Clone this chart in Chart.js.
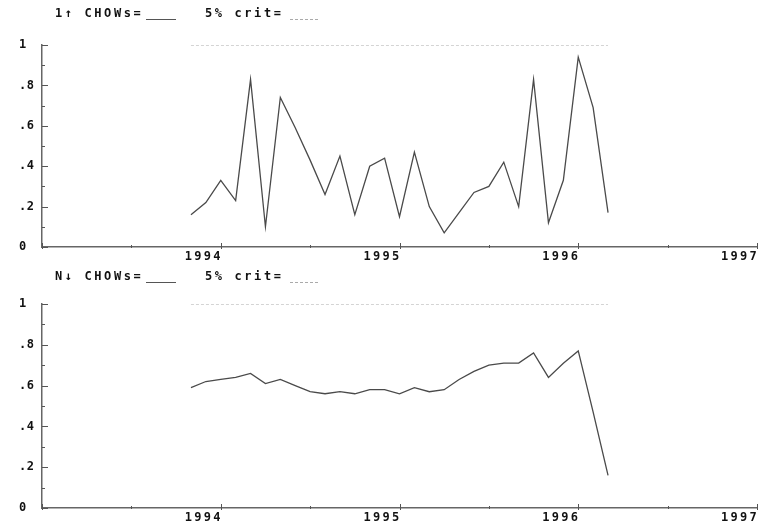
<!DOCTYPE html>
<html><head><meta charset="utf-8">
<script src="https://cdn.jsdelivr.net/npm/chart.js@4"></script>
<style>
body{margin:0;background:#fff;width:759px;height:526px;overflow:hidden;position:relative}
#c1{position:absolute;left:0;top:0}
#c2{position:absolute;left:0;top:262px}
</style></head>
<body>
<canvas id="c1" width="759" height="262"></canvas>
<canvas id="c2" width="759" height="264"></canvas>
<script>
// ---- data ----
const months = ["1993-11","1993-12","1994-01","1994-02","1994-03","1994-04","1994-05","1994-06","1994-07","1994-08","1994-09","1994-10","1994-11","1994-12","1995-01","1995-02","1995-03","1995-04","1995-05","1995-06","1995-07","1995-08","1995-09","1995-10","1995-11","1995-12","1996-01","1996-02","1996-03"];
const oneStepChow = [0.16,0.22,0.33,0.23,0.83,0.10,0.74,0.59,0.43,0.26,0.45,0.16,0.40,0.44,0.15,0.47,0.20,0.07,0.17,0.27,0.30,0.42,0.20,0.83,0.12,0.33,0.94,0.69,0.17];
const nDownChow   = [0.59,0.62,0.63,0.64,0.66,0.61,0.63,0.60,0.57,0.56,0.57,0.56,0.58,0.58,0.56,0.59,0.57,0.58,0.63,0.67,0.70,0.71,0.71,0.76,0.64,0.71,0.77,0.47,0.16];
const crit5pct    = [1,1,1,1,1,1,1,1,1,1,1,1,1,1,1,1,1,1,1,1,1,1,1,1,1,1,1,1,1];
const xTickLabels = ["1994","1995","1996","1997"];
const yTickLabels = ["0",".2",".4",".6",".8","1"];
const titles = [["1\u2191 CHOWs=","5% crit="],["N\u2193 CHOWs=","5% crit="]];

function toYear(m){ const p=m.split("-"); return +p[0] + (+p[1]-1)/12; }
function pts(vals){ return months.map((m,i)=>({x:toYear(m), y:vals[i]})); }

const FONT = 'bold 12px "DejaVu Sans Mono"';
const TXT = '#111';

const axisPlugin = {
  id:'pcgAxes',
  afterDraw(chart, args, opts){
    const ctx = chart.ctx, a = chart.chartArea;
    const xs = chart.scales.x, ys = chart.scales.y;
    ctx.save();
    ctx.strokeStyle = '#555'; ctx.lineWidth = 1;
    xs.ticks.forEach(t=>{
      const px = Math.round(xs.getPixelForValue(t.value))+0.5;
      const major = Math.abs(t.value - Math.round(t.value))<1e-6;
      ctx.beginPath();
      ctx.moveTo(px, a.bottom-(major?4:2)); ctx.lineTo(px, a.bottom+(major?2:1));
      ctx.stroke();
    });
    ys.ticks.forEach(t=>{
      const py = Math.round(ys.getPixelForValue(t.value))+0.5;
      const major = Math.round(t.value*10)%2===0;
      ctx.beginPath();
      ctx.moveTo(a.left, py); ctx.lineTo(a.left+(major?6:3), py);
      ctx.stroke();
    });
    ctx.fillStyle = TXT; ctx.font = FONT; ctx.textBaseline='middle';
    ctx.letterSpacing = '2.3px'; ctx.textAlign='right';
    xTickLabels.forEach(l=>{
      const px = xs.getPixelForValue(parseFloat(l));
      ctx.fillText(l, px+2, a.bottom+10);
    });
    ctx.letterSpacing = '0.5px'; ctx.textAlign='left';
    yTickLabels.forEach(l=>{
      const py = ys.getPixelForValue(parseFloat(l));
      ctx.fillText(l, 19, py);
    });
    ctx.letterSpacing = '2.6px';
    const ty = opts.titleY;
    ctx.fillText(opts.t[0], 55, ty);
    ctx.fillText(opts.t[1], 205, ty);
    ctx.strokeStyle='#555'; ctx.lineWidth=1;
    ctx.beginPath(); ctx.moveTo(146, ty+5.5); ctx.lineTo(176, ty+5.5); ctx.stroke();
    ctx.strokeStyle='#aaa'; ctx.setLineDash([3,2]);
    ctx.beginPath(); ctx.moveTo(290, ty+5.5); ctx.lineTo(318, ty+5.5); ctx.stroke();
    ctx.restore();
  }
};

function makeChart(id, vals, padTop, xH, titleY, t){
  return new Chart(document.getElementById(id), {
    type:'line',
    data:{datasets:[
      {data:pts(vals), borderColor:'#4a4a4a', borderWidth:1.3, pointRadius:0, tension:0},
      {data:pts(crit5pct), borderColor:'#aaa', borderWidth:1, borderDash:[3,2], pointRadius:0}
    ]},
    options:{
      responsive:false, animation:false, devicePixelRatio:1,
      layout:{padding:{top:padTop,left:0,right:2,bottom:0}},
      plugins:{legend:{display:false}, tooltip:{enabled:false}, pcgAxes:{titleY:titleY, t:t}},
      scales:{
        x:{type:'linear', min:1993, max:1997, ticks:{display:false, stepSize:0.5},
           grid:{display:false}, border:{display:true, color:'#666', width:1.5},
           afterFit(s){ s.height = xH; }},
        y:{min:0, max:1, ticks:{display:false, stepSize:0.1},
           grid:{display:false}, border:{display:true, color:'#666', width:1.5},
           afterFit(s){ s.width = 42; }}
      }
    },
    plugins:[axisPlugin]
  });
}
makeChart('c1', oneStepChow, 45, 15, 14, titles[0]);
makeChart('c2', nDownChow, 42, 18, 15, titles[1]);
</script>
</body></html>
